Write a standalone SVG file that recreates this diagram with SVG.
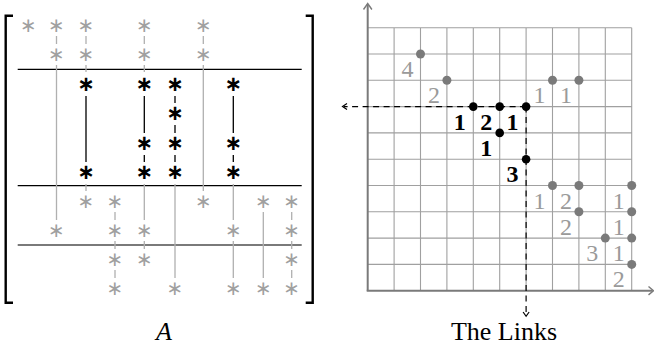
<svg xmlns="http://www.w3.org/2000/svg" width="654" height="352" viewBox="0 0 654 352">
<style>
.ga{font-family:"DejaVu Sans",sans-serif;font-size:20px;fill:#a0a0a0;text-anchor:middle}
.ba{font-family:"DejaVu Sans",sans-serif;font-size:21px;font-weight:bold;fill:#000;text-anchor:middle}
.gl{stroke:#b0b0b0;stroke-width:1.3;fill:none}
.bl{stroke:#000;stroke-width:1.3;fill:none}
.num{font-family:"Liberation Serif",serif;font-size:24px;fill:#9a9a9a;text-anchor:middle}
.bnum{font-family:"Liberation Serif",serif;font-size:24px;font-weight:bold;fill:#000;text-anchor:middle}
.gd{fill:#7a7a7a}
.bd{fill:#000}
.cap{font-family:"Liberation Serif",serif;font-size:26px;fill:#000;text-anchor:middle}
</style>
<g id="matrix-A">
  <path d="M13,15.7 H5.7 V302.7 H13 M305.7,15.7 H312.7 V302.7 H305.7" fill="none" stroke="#000" stroke-width="2.4"/>
  <path d="M17.7,69.3 H301.7 M17.7,185.7 H301.7" stroke="#000" stroke-width="1.2"/>
  <path d="M17.7,245 H301.7" stroke="#7a7a7a" stroke-width="2.2"/>
  <g id="matrix-connectors">
    <path class="gl" d="M56.5,36V44 M56.5,65V220 M86,36V44 M86,65V72 M144.3,36V44 M144.3,65V72 M203.3,36V44 M203.3,65V191"/>
    <path class="bl" d="M86,96V162 M144.3,96V133 M144.3,155V162 M175,96V103 M175,125V133 M175,155V162 M233.3,96V133 M233.3,155V162"/>
    <path class="gl" d="M86,184V191 M115,212V220 M115,241V249 M115,270V278 M144.3,184V220 M144.3,241V249 M175,184V278 M233.3,184V220 M233.3,241V278 M263.3,212V278 M291.7,212V220 M291.7,241V249 M291.7,270V278"/>
  </g>
  <g id="matrix-entries">
    <g id="row0"><text class="ga" x="28.5" y="32">∗</text><text class="ga" x="56.5" y="32">∗</text><text class="ga" x="86" y="32">∗</text><text class="ga" x="144.3" y="32">∗</text><text class="ga" x="203.3" y="32">∗</text></g>
    <g id="row1"><text class="ga" x="56.5" y="61">∗</text><text class="ga" x="86" y="61">∗</text><text class="ga" x="144.3" y="61">∗</text><text class="ga" x="203.3" y="61">∗</text></g>
    <g id="row2"><text class="ba" x="86" y="91">∗</text><text class="ba" x="144.3" y="91">∗</text><text class="ba" x="175" y="91">∗</text><text class="ba" x="233.3" y="91">∗</text></g>
    <g id="row3"><text class="ba" x="175" y="120">∗</text></g>
    <g id="row4"><text class="ba" x="144.3" y="150">∗</text><text class="ba" x="175" y="150">∗</text><text class="ba" x="233.3" y="150">∗</text></g>
    <g id="row5"><text class="ba" x="86" y="179">∗</text><text class="ba" x="144.3" y="179">∗</text><text class="ba" x="175" y="179">∗</text><text class="ba" x="233.3" y="179">∗</text></g>
    <g id="row6"><text class="ga" x="86" y="208">∗</text><text class="ga" x="115" y="208">∗</text><text class="ga" x="203.3" y="208">∗</text><text class="ga" x="263.3" y="208">∗</text><text class="ga" x="291.7" y="208">∗</text></g>
    <g id="row7"><text class="ga" x="56.5" y="237">∗</text><text class="ga" x="115" y="237">∗</text><text class="ga" x="144.3" y="237">∗</text><text class="ga" x="233.3" y="237">∗</text><text class="ga" x="291.7" y="237">∗</text></g>
    <g id="row8"><text class="ga" x="115" y="266">∗</text><text class="ga" x="144.3" y="266">∗</text><text class="ga" x="291.7" y="266">∗</text></g>
    <g id="row9"><text class="ga" x="115" y="295">∗</text><text class="ga" x="175" y="295">∗</text><text class="ga" x="233.3" y="295">∗</text><text class="ga" x="263.3" y="295">∗</text><text class="ga" x="291.7" y="295">∗</text></g>
  </g>
  <text id="caption-A" class="cap" x="164" y="340" font-style="italic">A</text>
</g>
<g id="links-plot">
  <path id="grid" fill="none" stroke="#a0a0a0" stroke-width="1.1" d="M394.1,27.7V290.7 M420.5,27.7V290.7 M446.9,27.7V290.7 M473.3,27.7V290.7 M499.7,27.7V290.7 M526.1,27.7V290.7 M552.5,27.7V290.7 M578.9,27.7V290.7 M605.3,27.7V290.7 M631.7,27.7V290.7 M367.7,264.4H631.7 M367.7,238.1H631.7 M367.7,211.8H631.7 M367.7,185.5H631.7 M367.7,159.2H631.7 M367.7,132.9H631.7 M367.7,106.6H631.7 M367.7,80.3H631.7 M367.7,54H631.7 M367.7,27.7H631.7"/>
  <g id="axes" fill="none" stroke="#7a7a7a" stroke-width="2">
    <path d="M367.7,290.7V4"/>
    <path d="M363.5,9.5 L367.7,3.5 L371.9,9.5" stroke-width="1.4"/>
    <path d="M366.7,290.7H652.5"/>
    <path d="M648.5,286.5 L653.5,290.7 L648.5,294.9" stroke-width="1.4"/>
  </g>
  <g id="connectors" fill="none" stroke="#000" stroke-width="1.2">
    <path d="M526.1,106.6H344" stroke-dasharray="6 4.5"/>
    <path d="M347,103.6 L342.5,106.6 L347,109.6"/>
    <path d="M526.1,106.6V315" stroke-dasharray="6 4.5"/>
    <path d="M523.1,312 L526.1,316.3 L529.1,312"/>
  </g>
  <g id="node-g1"><circle class="gd" cx="420.5" cy="54" r="4.5"/><text class="num" x="407.5" y="77">4</text></g>
  <g id="node-g2"><circle class="gd" cx="446.9" cy="80.3" r="4.5"/><text class="num" x="433.9" y="103.3">2</text></g>
  <g id="node-g3"><circle class="gd" cx="552.5" cy="80.3" r="4.5"/><text class="num" x="539.5" y="103.3">1</text></g>
  <g id="node-g4"><circle class="gd" cx="578.9" cy="80.3" r="4.5"/><text class="num" x="565.9" y="103.3">1</text></g>
  <g id="node-g5"><circle class="gd" cx="552.5" cy="185.5" r="4.5"/><text class="num" x="539.5" y="208.5">1</text></g>
  <g id="node-g6"><circle class="gd" cx="578.9" cy="185.5" r="4.5"/><text class="num" x="565.9" y="208.5">2</text></g>
  <g id="node-g7"><circle class="gd" cx="631.7" cy="185.5" r="4.5"/><text class="num" x="618.7" y="208.5">1</text></g>
  <g id="node-g8"><circle class="gd" cx="578.9" cy="211.8" r="4.5"/><text class="num" x="565.9" y="234.8">2</text></g>
  <g id="node-g9"><circle class="gd" cx="631.7" cy="211.8" r="4.5"/><text class="num" x="618.7" y="234.8">1</text></g>
  <g id="node-g10"><circle class="gd" cx="605.3" cy="238.1" r="4.5"/><text class="num" x="592.3" y="261.1">3</text></g>
  <g id="node-g11"><circle class="gd" cx="631.7" cy="238.1" r="4.5"/><text class="num" x="618.7" y="261.1">1</text></g>
  <g id="node-g12"><circle class="gd" cx="631.7" cy="264.4" r="4.5"/><text class="num" x="618.7" y="287.4">2</text></g>
  <g id="node-b1"><circle class="bd" cx="473.3" cy="106.6" r="4.3"/><text class="bnum" x="459.8" y="129.6">1</text></g>
  <g id="node-b2"><circle class="bd" cx="499.7" cy="106.6" r="4.3"/><text class="bnum" x="486.2" y="129.6">2</text></g>
  <g id="node-b3"><circle class="bd" cx="526.1" cy="106.6" r="4.3"/><text class="bnum" x="512.6" y="129.6">1</text></g>
  <g id="node-b4"><circle class="bd" cx="499.7" cy="132.9" r="4.3"/><text class="bnum" x="486.2" y="155.9">1</text></g>
  <g id="node-b5"><circle class="bd" cx="526.1" cy="159.2" r="4.3"/><text class="bnum" x="512.6" y="182.2">3</text></g>
  <text id="caption-links" class="cap" x="504" y="340">The Links</text>
</g>
</svg>
